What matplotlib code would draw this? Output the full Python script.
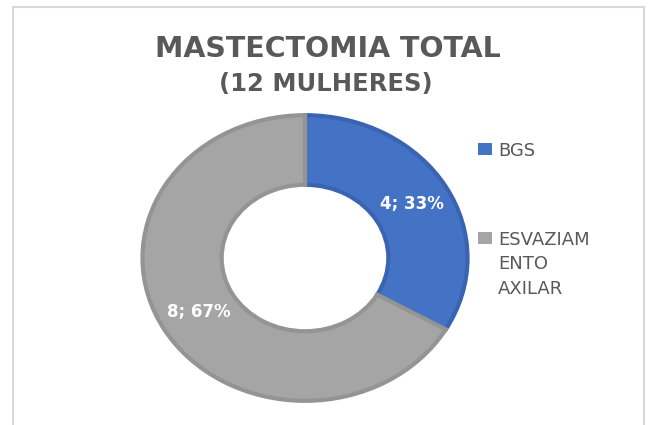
import numpy as np
import matplotlib.pyplot as plt
from matplotlib.patches import Rectangle

# data
categories = ['BGS', 'ESVAZIAMENTO AXILAR']
legend_lines = ['BGS', 'ESVAZIAM\nENTO\nAXILAR']
counts = [4, 8]
colors = ['#4472c4', '#a5a5a5']
edge_colors = ['#3a64b2', '#949494']
title_lines = ['MASTECTOMIA TOTAL', '(12 MULHERES)']

W, H = 652, 425
fig = plt.figure(figsize=(W / 100, H / 100), dpi=100)
fig.patch.set_facecolor('white')

# outer chart border (bottom runs off the picture)
fig.add_artist(Rectangle((13 / W, -0.05), (644 - 13) / W, (H - 7) / H + 0.05,
                         transform=fig.transFigure, fill=False,
                         edgecolor='#d9d9d9', linewidth=1.5))

# donut area: centre (305, 258) px, radii 165 x 145 px
cx, cy, rx, ry = 305, 258, 165, 145
ax = fig.add_axes([(cx - rx) / W, (H - cy - ry) / H, 2 * rx / W, 2 * ry / H])

total = sum(counts)
wedges, texts = ax.pie(counts, colors=colors, startangle=90, counterclock=False,
                       radius=0.985, wedgeprops=dict(width=0.48, linewidth=3))
for w, ec in zip(wedges, edge_colors):
    w.set_edgecolor(ec)
    w.set_clip_on(False)

# data labels "n; p%"
for w, n in zip(wedges, counts):
    ang = np.deg2rad((w.theta1 + w.theta2) / 2)
    r = 0.745
    ax.text(r * np.cos(ang), r * np.sin(ang), f'{n}; {round(100 * n / total)}%',
            ha='center', va='center', color='white', fontsize=12,
            fontweight='bold')

ax.set_aspect('auto')
ax.set_xlim(-1, 1)
ax.set_ylim(-1, 1)
ax.axis('off')

# title
fig.text(328 / W, 1 - 57 / H, title_lines[0], ha='center', va='baseline',
         fontsize=20.5, fontweight='bold', color='#595959')
fig.text(326 / W, 1 - 91 / H, title_lines[1], ha='center', va='baseline',
         fontsize=17.5, fontweight='bold', color='#595959')

# legend
legend_y = [149, 238]
for lab, col, y in zip(legend_lines, colors, legend_y):
    fig.add_artist(Rectangle((478 / W, 1 - (y + 6) / H), 14 / W, 12 / H,
                             transform=fig.transFigure, facecolor=col,
                             edgecolor='none'))
    fig.text(498 / W, 1 - (y - 7) / H, lab, ha='left', va='top',
             fontsize=13, color='#595959', linespacing=1.45)

fig.savefig('out.png', dpi=100)
